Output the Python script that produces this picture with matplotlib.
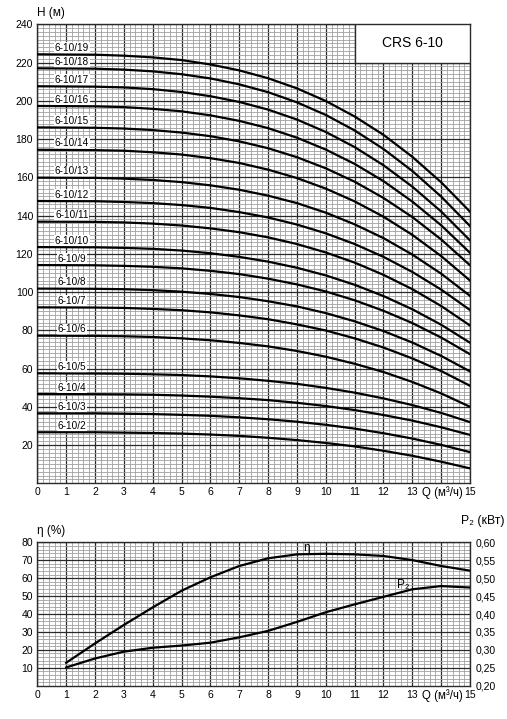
import matplotlib
matplotlib.use("Agg")
import matplotlib.pyplot as plt
from matplotlib.patches import Rectangle

plt.rcParams['font.family'] = ['Liberation Sans', 'DejaVu Sans']

# flow points (m3/h) for the head curves
q_head = [0, 2, 3, 4, 5, 6, 7, 8, 9, 10, 11, 12, 13, 14, 15]

# head H (m) of each pump model
h02 = [26.7, 26.7, 26.5, 26.3, 26.0, 25.5, 24.8, 23.8, 22.6, 21.1, 19.3, 17.0, 14.4, 11.3, 7.8]
h03 = [36.6, 36.6, 36.4, 36.2, 35.8, 35.3, 34.5, 33.5, 32.2, 30.6, 28.6, 26.2, 23.4, 20.1, 16.3]
h04 = [46.7, 46.6, 46.5, 46.3, 45.9, 45.3, 44.5, 43.5, 42.1, 40.4, 38.3, 35.7, 32.8, 29.3, 25.3]
h05 = [57.5, 57.4, 57.3, 57.0, 56.6, 55.9, 54.9, 53.6, 52.0, 49.9, 47.4, 44.4, 40.9, 36.8, 32.0]
h06 = [77.2, 77.1, 76.9, 76.5, 75.8, 74.8, 73.4, 71.6, 69.2, 66.2, 62.5, 58.2, 53.0, 47.0, 40.0]
h07 = [92.0, 91.9, 91.7, 91.2, 90.5, 89.4, 87.8, 85.8, 83.1, 79.9, 75.8, 71.0, 65.3, 58.7, 51.0]
h08 = [101.8, 101.7, 101.5, 101.0, 100.2, 99.0, 97.4, 95.2, 92.5, 89.0, 84.7, 79.6, 73.6, 66.6, 58.5]
h09 = [114.1, 114.0, 113.7, 113.2, 112.4, 111.1, 109.4, 107.0, 104.0, 100.3, 95.7, 90.2, 83.8, 76.2, 67.5]
h10 = [123.5, 123.4, 123.1, 122.6, 121.7, 120.3, 118.4, 115.9, 112.7, 108.7, 103.8, 97.9, 91.0, 82.9, 73.5]
h11 = [136.8, 136.7, 136.4, 135.8, 134.8, 133.3, 131.3, 128.6, 125.1, 120.7, 115.4, 109.0, 101.5, 92.7, 82.5]
h12 = [147.6, 147.5, 147.1, 146.5, 145.5, 144.0, 141.8, 139.0, 135.3, 130.7, 125.1, 118.4, 110.5, 101.3, 90.6]
h13 = [159.8, 159.7, 159.3, 158.6, 157.5, 155.8, 153.5, 150.4, 146.5, 141.5, 135.4, 128.2, 119.6, 109.6, 98.0]
h14 = [174.4, 174.2, 173.9, 173.1, 171.9, 170.0, 167.5, 164.0, 159.6, 154.1, 147.4, 139.4, 129.9, 118.8, 106.0]
h15 = [186.1, 185.9, 185.5, 184.7, 183.4, 181.5, 178.8, 175.2, 170.5, 164.7, 157.7, 149.2, 139.2, 127.5, 114.0]
h16 = [197.3, 197.1, 196.7, 195.8, 194.5, 192.4, 189.5, 185.7, 180.7, 174.5, 167.0, 158.0, 147.3, 134.9, 120.5]
h17 = [207.6, 207.4, 207.0, 206.1, 204.6, 202.4, 199.4, 195.4, 190.2, 183.7, 175.8, 166.3, 155.1, 142.1, 127.0]
h18 = [217.0, 216.8, 216.3, 215.4, 213.9, 211.7, 208.6, 204.5, 199.2, 192.6, 184.5, 174.8, 163.3, 149.9, 134.5]
h19 = [224.3, 224.1, 223.6, 222.7, 221.3, 219.0, 215.9, 211.8, 206.5, 199.9, 191.8, 182.2, 170.7, 157.4, 142.0]

models = ["6-10/2", "6-10/3", "6-10/4", "6-10/5", "6-10/6", "6-10/7", "6-10/8",
          "6-10/9", "6-10/10", "6-10/11", "6-10/12", "6-10/13", "6-10/14",
          "6-10/15", "6-10/16", "6-10/17", "6-10/18", "6-10/19"]
heads = [h02, h03, h04, h05, h06, h07, h08, h09, h10, h11, h12, h13, h14,
         h15, h16, h17, h18, h19]

# efficiency (%) and power P2 (kW) curves
q_eff = [1, 2, 3, 4, 5, 6, 7, 8, 9, 10, 11, 12, 13, 14, 15]
eta = [12.8, 23.6, 33.9, 43.7, 53.0, 60.5, 66.8, 71.1, 73.3, 73.6, 73.3, 72.4, 70.1, 66.8, 64.2]
p2 = [0.251, 0.276, 0.295, 0.306, 0.312, 0.320, 0.335, 0.353, 0.378, 0.405, 0.427, 0.448,
      0.469, 0.478, 0.474]

x_labels = ["0", "1", "2", "3", "4", "5", "6", "7", "8", "9", "10", "11", "12", "13", "", "15"]
p_ticks = [0.20, 0.25, 0.30, 0.35, 0.40, 0.45, 0.50, 0.55, 0.60]


def paper_grid(ax, ymax, yminor):
    # graph-paper look: grey minor lines, dark major lines
    ax.set_xlim(0, 15)
    ax.set_ylim(0, ymax)
    ax.set_xticks(range(0, 16))
    ax.set_xticks([i * 0.2 for i in range(76)], minor=True)
    ax.set_yticks([i * yminor for i in range(int(ymax / yminor) + 1)], minor=True)
    ax.grid(which='minor', color='#a0a0a0', lw=0.6)
    ax.grid(which='major', color='#2a2a2a', lw=0.9)
    ax.set_axisbelow(True)
    ax.tick_params(which='both', length=0, labelsize=7.5, pad=3)
    ax.set_xticklabels(x_labels)
    for s in ax.spines.values():
        s.set_color('#2a2a2a')
        s.set_linewidth(1.0)


fig = plt.figure(figsize=(5.07, 7.19), dpi=100)

# top: head curves
ax1 = fig.add_axes([0.0736, 0.3278, 0.8535, 0.6384])
paper_grid(ax1, 240, 2)
ax1.set_yticks(range(20, 241, 20))
ax1.set_xticklabels(x_labels)
for name, h in zip(models, heads):
    ax1.plot(q_head, h, color='black', lw=1.6, zorder=4)
    ax1.text(1.2, h[0] + 3.3, name, fontsize=7.2, ha='center', va='center', zorder=3,
             bbox=dict(facecolor='white', edgecolor='none', pad=0.6))
ax1.add_patch(Rectangle((11, 220), 4, 20, facecolor='white', edgecolor='#2a2a2a',
                        lw=1.0, zorder=3))
ax1.text(13, 230, "CRS 6-10", fontsize=10, ha='center', va='center', zorder=5)
ax1.text(0.0, 1.012, "H (м)", transform=ax1.transAxes, fontsize=8.5, ha='left', va='bottom')
ax1.text(14.05, -4.9, "Q (м³/ч)", fontsize=8.3, ha='center', va='center')

# bottom: efficiency and power
ax2 = fig.add_axes([0.0736, 0.0463, 0.8535, 0.1994])
paper_grid(ax2, 80, 2)
ax2.set_yticks(range(10, 81, 10))
ax2.plot(q_eff, eta, color='black', lw=1.6, zorder=4)
ax2.text(9.33, 77, "η", fontsize=8.5, ha='center', va='center', zorder=5)
ax2.text(0.0, 1.04, "η (%)", transform=ax2.transAxes, fontsize=8.5, ha='left', va='bottom')
ax2.text(14.05, -5.6, "Q (м³/ч)", fontsize=8.3, ha='center', va='center')

ax3 = ax2.twinx()
ax3.set_ylim(0.2, 0.6)
ax3.set_yticks(p_ticks)
ax3.set_yticklabels([f"{v:.2f}".replace('.', ',') for v in p_ticks])
ax3.tick_params(length=0, labelsize=7.5, pad=4)
for s in ax3.spines.values():
    s.set_visible(False)
ax3.plot(q_eff, p2, color='black', lw=1.6, zorder=4)
ax3.text(12.67, 0.482, "P₂", fontsize=8.5, ha='center', va='center')
ax3.text(1.08, 1.11, "P₂ (кВт)", transform=ax3.transAxes, fontsize=8.8, ha='right',
         va='bottom')

fig.savefig("out.png", dpi=100)
